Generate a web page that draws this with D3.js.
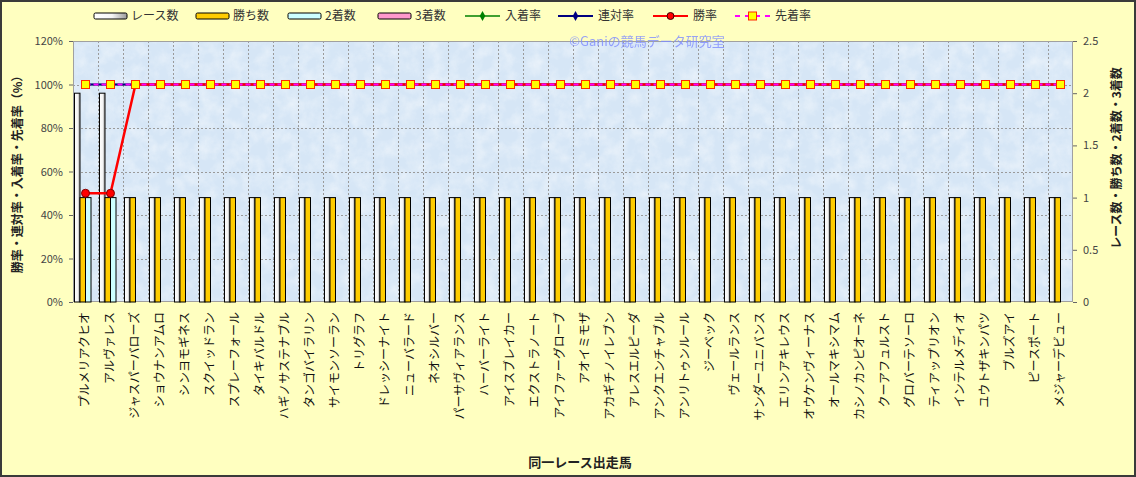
<!DOCTYPE html>
<html>
<head>
<meta charset="utf-8">
<script src="https://cdn.jsdelivr.net/npm/d3@7"></script>
<style>
  body { margin: 0; background: #fff; }
  svg text { font-family: "Noto Sans CJK JP", "Noto Sans", sans-serif; }
</style>
</head>
<body>
<div id="chart"></div>
<script>
const horses = [
  "プルメリアクヒオ", "アルヴァレス", "ジャスパーバローズ", "ショウナンアムロ", "シンヨモギネス",
  "スクイッドラン", "スプレーフォール", "タイキバルドル", "ハギノサステナブル", "タンゴバイラリン",
  "サイモンソーラン", "トリグラフ", "ドレッシーナイト", "ニューバラード", "ネオシルバー",
  "パーサヴィアランス", "ハーバーライト", "アイスブレイカー", "エクストラノート", "アイファーグローブ",
  "アオイミモザ", "アカギチノイレブン", "アレスエルピーダ", "アンクエンチャブル", "アンリトゥンルール",
  "ジーベック", "ヴェールランス", "サンダーユニバンス", "エリンアキレウス", "オウケンヴィーナス",
  "オールマキシマム", "カシノカンピオーネ", "クーアフュルスト", "グロバーテソーロ", "ティアップリオン",
  "インテルメディオ", "ユウトザキンパツ", "ブルズアイ", "ピースポート", "メジャーデビュー"
];

// counts (right axis)
const raceCounts = [2,2,1,1,1,1,1,1,1,1,1,1,1,1,1,1,1,1,1,1,1,1,1,1,1,1,1,1,1,1,1,1,1,1,1,1,1,1,1,1];
const winCounts  = [1,1,1,1,1,1,1,1,1,1,1,1,1,1,1,1,1,1,1,1,1,1,1,1,1,1,1,1,1,1,1,1,1,1,1,1,1,1,1,1];
const secondCounts = [1,1,0,0,0,0,0,0,0,0,0,0,0,0,0,0,0,0,0,0,0,0,0,0,0,0,0,0,0,0,0,0,0,0,0,0,0,0,0,0];
const thirdCounts  = [0,0,0,0,0,0,0,0,0,0,0,0,0,0,0,0,0,0,0,0,0,0,0,0,0,0,0,0,0,0,0,0,0,0,0,0,0,0,0,0];

// rates in % (left axis)
const placeRate = [100,100,100,100,100,100,100,100,100,100,100,100,100,100,100,100,100,100,100,100,100,100,100,100,100,100,100,100,100,100,100,100,100,100,100,100,100,100,100,100];
const quinellaRate = [100,100,100,100,100,100,100,100,100,100,100,100,100,100,100,100,100,100,100,100,100,100,100,100,100,100,100,100,100,100,100,100,100,100,100,100,100,100,100,100];
const winRate = [50,50,100,100,100,100,100,100,100,100,100,100,100,100,100,100,100,100,100,100,100,100,100,100,100,100,100,100,100,100,100,100,100,100,100,100,100,100,100,100];
const aheadRate = [100,100,100,100,100,100,100,100,100,100,100,100,100,100,100,100,100,100,100,100,100,100,100,100,100,100,100,100,100,100,100,100,100,100,100,100,100,100,100,100];

const leftTicks = [0, 20, 40, 60, 80, 100, 120];
const rightTicks = [0, 0.5, 1, 1.5, 2, 2.5];

const W = 1136, H = 477;
const plot = { left: 73, right: 1073, top: 41, bottom: 302 };

const svg = d3.select("#chart").append("svg")
  .attr("width", W).attr("height", H);

const defs = svg.append("defs");

// paper-like texture for the plot area
const tex = defs.append("filter").attr("id", "tissue")
  .attr("x", 0).attr("y", 0).attr("width", "100%").attr("height", "100%");
tex.append("feTurbulence").attr("type", "fractalNoise")
  .attr("baseFrequency", "0.07").attr("numOctaves", 4).attr("seed", 7);
tex.append("feColorMatrix").attr("type", "matrix")
  .attr("values", "0 0 0 0 1  0 0 0 0 1  0 0 0 0 1  0 0 0 1.4 -0.5");

const grad = defs.append("linearGradient").attr("id", "raceFill")
  .attr("x1", "0%").attr("x2", "100%").attr("y1", "0%").attr("y2", "0%");
grad.append("stop").attr("offset", "0%").attr("stop-color", "#ffffff");
grad.append("stop").attr("offset", "55%").attr("stop-color", "#f4f4f4");
grad.append("stop").attr("offset", "100%").attr("stop-color", "#9a9a9a");

// background
svg.append("rect").attr("x", 1).attr("y", 1).attr("width", W - 2).attr("height", H - 2)
  .attr("fill", "#ffffc0").attr("stroke", "#3a3a3a").attr("stroke-width", 2);

// Scales
const x = d3.scaleBand().domain(horses).range([plot.left, plot.right]);
const barKeys = ["race", "win", "second", "third"];
const x1 = d3.scaleBand().domain(barKeys).range([0, x.bandwidth()]).paddingOuter(0.27);
const yL = d3.scaleLinear().domain([0, 120]).range([plot.bottom, plot.top]);
const yR = d3.scaleLinear().domain([0, 2.5]).range([plot.bottom, plot.top]);

// Plot area
svg.append("rect").attr("x", plot.left).attr("y", plot.top)
  .attr("width", plot.right - plot.left).attr("height", plot.bottom - plot.top)
  .attr("fill", "#d6e6f6");
svg.append("rect").attr("x", plot.left).attr("y", plot.top)
  .attr("width", plot.right - plot.left).attr("height", plot.bottom - plot.top)
  .attr("filter", "url(#tissue)").attr("opacity", 0.55);

// Gridlines
const grid = svg.append("g").attr("stroke", "#9a9a9a").attr("stroke-dasharray", "2,2").attr("stroke-width", 1);
grid.selectAll("line.h").data(leftTicks.slice(1, -1)).enter().append("line")
  .attr("x1", plot.left).attr("x2", plot.right)
  .attr("y1", (d) => Math.round(yL(d)) + 0.5).attr("y2", (d) => Math.round(yL(d)) + 0.5);
grid.selectAll("line.v").data(horses.slice(1)).enter().append("line")
  .attr("x1", (d) => Math.round(x(d)) + 0.5).attr("x2", (d) => Math.round(x(d)) + 0.5)
  .attr("y1", plot.top).attr("y2", plot.bottom);

svg.append("rect").attr("x", plot.left + 0.5).attr("y", plot.top + 0.5)
  .attr("width", plot.right - plot.left - 1).attr("height", plot.bottom - plot.top - 1)
  .attr("fill", "none").attr("stroke", "#a0a0a0");

// Bars
const barSeries = [
  { key: "race", values: raceCounts, fill: "url(#raceFill)" },
  { key: "win", values: winCounts, fill: "#ffcc00" },
  { key: "second", values: secondCounts, fill: "#ccffff" },
  { key: "third", values: thirdCounts, fill: "#ff99cc" }
];
const barG = svg.append("g");
barSeries.forEach((s) => {
  barG.selectAll(null).data(horses.map((h, i) => ({ h, v: s.values[i] })).filter((d) => d.v > 0))
    .enter().append("rect")
    .attr("x", (d) => x(d.h) + x1(s.key))
    .attr("y", (d) => yR(d.v))
    .attr("width", x1.bandwidth())
    .attr("height", (d) => yR(0) - yR(d.v))
    .attr("fill", s.fill)
    .attr("stroke", "#000").attr("stroke-width", 1);
});

// Lines
const cx = (i) => x(horses[i]) + x.bandwidth() / 2;
const line = d3.line().x((d, i) => cx(i)).y((d) => yL(d));

svg.append("path").datum(placeRate).attr("d", line)
  .attr("fill", "none").attr("stroke", "#008000").attr("stroke-width", 1.5);
svg.append("g").selectAll("path").data(placeRate).enter().append("path")
  .attr("d", d3.symbol(d3.symbolDiamond, 22))
  .attr("transform", (d, i) => `translate(${cx(i)},${yL(d)})`).attr("fill", "#008000");

svg.append("path").datum(quinellaRate).attr("d", line)
  .attr("fill", "none").attr("stroke", "#000080").attr("stroke-width", 2);
svg.append("g").selectAll("path").data(quinellaRate).enter().append("path")
  .attr("d", d3.symbol(d3.symbolDiamond, 22))
  .attr("transform", (d, i) => `translate(${cx(i)},${yL(d)})`).attr("fill", "#000080");

svg.append("path").datum(winRate).attr("d", line)
  .attr("fill", "none").attr("stroke", "#ff0000").attr("stroke-width", 2.5);
svg.append("g").selectAll("circle").data(winRate).enter().append("circle")
  .attr("cx", (d, i) => cx(i)).attr("cy", (d) => yL(d)).attr("r", 4)
  .attr("fill", "#ff0000").attr("stroke", "#800000").attr("stroke-width", 1);

svg.append("path").datum(aheadRate).attr("d", line)
  .attr("fill", "none").attr("stroke", "#ff00ff").attr("stroke-width", 2)
  .attr("stroke-dasharray", "5,3");
svg.append("g").selectAll("rect").data(aheadRate).enter().append("rect")
  .attr("x", (d, i) => cx(i) - 4).attr("y", (d) => yL(d) - 4)
  .attr("width", 8).attr("height", 8)
  .attr("fill", "#ffff00").attr("stroke", "#ff2a00").attr("stroke-width", 1);

// Axes
const axisL = svg.append("g").attr("transform", `translate(${plot.left},0)`)
  .call(d3.axisLeft(yL).tickValues(leftTicks).tickFormat((d) => d + "%").tickSize(4).tickPadding(6));
const axisR = svg.append("g").attr("transform", `translate(${plot.right},0)`)
  .call(d3.axisRight(yR).tickValues(rightTicks).tickFormat((d) => String(d)).tickSize(4).tickPadding(6));
[axisL, axisR].forEach((a) => {
  a.select(".domain").remove();
  a.selectAll(".tick line").attr("stroke", "#666");
  a.selectAll(".tick text").attr("fill", "#444").style("font-size", "11px")
    .style("font-family", "\"Noto Sans CJK JP\", sans-serif");
});

// Category labels
svg.append("g").selectAll("text").data(horses).enter().append("text")
  .attr("transform", (d) => `translate(${x(d) + x.bandwidth() / 2 - 1},312) rotate(-90)`)
  .attr("text-anchor", "end").attr("dy", "0.35em")
  .style("font-size", "12px").attr("fill", "#111")
  .text((d) => d);

// Axis titles
svg.append("text").attr("transform", `translate(18,${(plot.top + plot.bottom) / 2}) rotate(-90)`)
  .attr("text-anchor", "middle").attr("dy", "0.35em")
  .style("font-size", "12px").style("font-weight", "bold").attr("fill", "#222")
  .text("勝率・連対率・入着率・先着率（%）");
svg.append("text").attr("transform", `translate(1117,158) rotate(-90)`)
  .attr("text-anchor", "middle").attr("dy", "0.35em")
  .style("font-size", "12px").style("font-weight", "bold").attr("fill", "#222")
  .text("レース数・勝ち数・2着数・3着数");
svg.append("text").attr("x", 580).attr("y", 467)
  .attr("text-anchor", "middle")
  .style("font-size", "13px").style("font-weight", "bold").attr("fill", "#222")
  .text("同一レース出走馬");

// Watermark
svg.append("text").attr("x", 647).attr("y", 46).attr("text-anchor", "middle")
  .style("font-size", "13px").attr("fill", "#7f8cff").attr("opacity", 0.8)
  .text("©Ganiの競馬データ研究室");

// Legend
const legendItems = [
  { label: "レース数", type: "bar", fill: "url(#raceFill)", x: 94 },
  { label: "勝ち数", type: "bar", fill: "#ffcc00", x: 196 },
  { label: "2着数", type: "bar", fill: "#ccffff", x: 288 },
  { label: "3着数", type: "bar", fill: "#ff99cc", x: 378 },
  { label: "入着率", type: "line", color: "#008000", marker: "diamond", x: 465 },
  { label: "連対率", type: "line", color: "#000080", marker: "diamond", x: 558 },
  { label: "勝率", type: "line", color: "#ff0000", marker: "circle", x: 653 },
  { label: "先着率", type: "line", color: "#ff00ff", marker: "square", x: 735 }
];
const ly = 16;
const legend = svg.append("g");
legendItems.forEach((it) => {
  const g = legend.append("g").attr("transform", `translate(${it.x},${ly})`);
  if (it.type === "bar") {
    g.append("rect").attr("x", 0).attr("y", -3).attr("width", 33).attr("height", 6)
      .attr("rx", 1.5).attr("fill", it.fill).attr("stroke", "#000");
  } else {
    g.append("line").attr("x1", 0).attr("x2", 35).attr("y1", 0).attr("y2", 0)
      .attr("stroke", it.color).attr("stroke-width", it.marker === "diamond" && it.color === "#008000" ? 1.5 : 2)
      .attr("stroke-dasharray", it.marker === "square" ? "5,5" : null);
    if (it.marker === "diamond") {
      g.append("path").attr("d", d3.symbol(d3.symbolDiamond, 28)).attr("transform", "translate(17.5,0)")
        .attr("fill", it.color);
    } else if (it.marker === "circle") {
      g.append("circle").attr("cx", 17.5).attr("cy", 0).attr("r", 3.5)
        .attr("fill", "#ff0000").attr("stroke", "#400000");
    } else {
      g.append("rect").attr("x", 13.5).attr("y", -4).attr("width", 8).attr("height", 8)
        .attr("fill", "#ffff00").attr("stroke", "#ff2a00");
    }
  }
  g.append("text").attr("x", it.type === "bar" ? 37 : 40).attr("y", 0).attr("dy", "0.36em")
    .style("font-size", "12px").attr("fill", "#333").text(it.label);
});
</script>
</body>
</html>
